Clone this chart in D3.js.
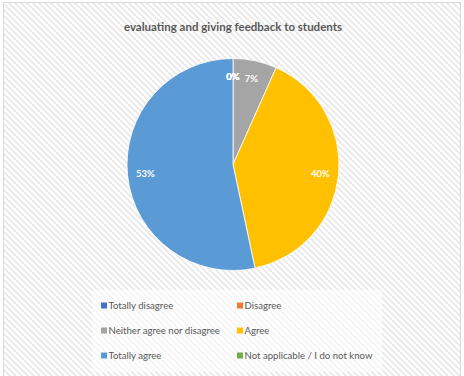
<!DOCTYPE html>
<html><head><meta charset="utf-8">
<script src="https://cdn.jsdelivr.net/npm/d3@7"></script>
<style>html,body{margin:0;padding:0;background:#fff;}svg{display:block;}</style>
</head><body>
<svg id="c" width="464" height="376"></svg>
<script>
const title = "evaluating and giving feedback to students";
const categories = ["Totally disagree","Disagree","Neither agree nor disagree","Agree","Totally agree","Not applicable / I do not know"];
const values = [0, 0, 6.67, 40, 53.33, 0];
const labels = ["0%","0%","7%","40%","53%","0%"];
const colors = ["#4472C4","#ED7D31","#A5A5A5","#FFC000","#5B9BD5","#70AD47"];

const svg = d3.select("#c");
const defs = svg.append("defs");
const pat = defs.append("pattern").attr("id","stripes").attr("patternUnits","userSpaceOnUse")
  .attr("width",6).attr("height",6);
pat.append("rect").attr("width",6).attr("height",6).attr("fill","#ffffff");
pat.append("path").attr("d","M-1,-1 L7,7 M-1,5 L1,7 M5,-1 L7,1").attr("stroke","#e9e9e9").attr("stroke-width",1.8);

svg.append("rect").attr("x",3.5).attr("y",2.5).attr("width",457).attr("height",390)
  .attr("fill","url(#stripes)").attr("stroke","#d9d9d9").attr("stroke-width",1);

svg.append("text").attr("x",233).attr("y",31).attr("text-anchor","middle")
  .attr("font-family","Lato, 'Open Sans', sans-serif").attr("font-weight","bold")
  .attr("font-size",11.5).attr("fill","#595959").text(title);

const cx = 233, cy = 164.5, r = 106;
const pie = d3.pie().sort(null).value(d => d.v);
const data = categories.map((c,i)=>({c, v: values[i], col: colors[i], lab: labels[i]}));
const arcs = pie(data);
const arc = d3.arc().innerRadius(0).outerRadius(r);
const g = svg.append("g").attr("transform",`translate(${cx},${cy})`);
g.selectAll("path").data(arcs).join("path")
  .attr("d",arc).attr("fill",d=>d.data.col)
  .attr("stroke",d=>d.data.v>0?"#fff":"none").attr("stroke-width",0.8);

const lab = d3.arc().innerRadius(r*0.83).outerRadius(r*0.83);
g.selectAll("text").data(arcs).join("text")
  .attr("transform",d=>{ const [x,y]=lab.centroid(d); return `translate(${x},${y})`; })
  .attr("text-anchor","middle").attr("dy","0.35em")
  .attr("font-family","Lato, 'Open Sans', sans-serif").attr("font-weight","bold")
  .attr("font-size",9.5).attr("fill","#fff").text(d=>d.data.lab);

svg.append("rect").attr("x",92).attr("y",290).attr("width",290).attr("height",82)
  .attr("fill","#fff").attr("opacity",0.55);

const colX = [101, 237];
const rowY = [306, 331, 356];
const leg = svg.append("g");
data.forEach((d,i)=>{
  const x = colX[i%2], y = rowY[Math.floor(i/2)];
  leg.append("rect").attr("x",x).attr("y",y-3.5).attr("width",6).attr("height",6).attr("fill",d.col);
  leg.append("text").attr("x",x+7.5).attr("y",y).attr("dy","0.35em")
    .attr("font-family","Lato, 'Open Sans', sans-serif").attr("font-size",9.6)
    .attr("fill","#595959").text(d.c);
});
</script>
</body></html>
